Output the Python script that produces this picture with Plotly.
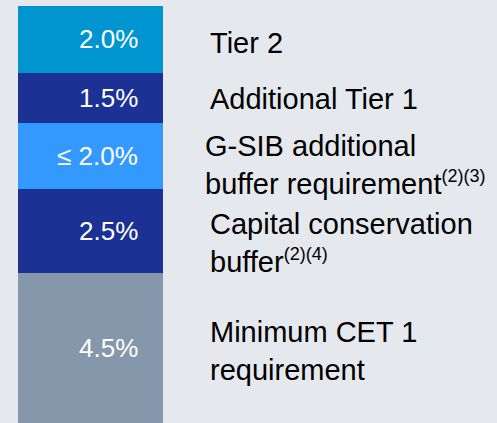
import plotly.graph_objects as go

# data (bottom to top)
categories = ["Minimum CET 1<br>requirement",
              "Capital conservation<br>buffer<sup>(2)(4)</sup>",
              "G-SIB additional<br>buffer requirement<sup>(2)(3)</sup>",
              "Additional Tier 1",
              "Tier 2"]
values = [4.5, 2.5, 2.0, 1.5, 2.0]
value_labels = ["4.5%", "2.5%", "≤ 2.0%", "1.5%", "2.0%"]
colors = ["#8497AB", "#1B3194", "#3399FF", "#1B3194", "#0095D0"]

# style/position tweaks per label (pixels)
label_xshift = [-3, -3, -8, -3, -3]
label_yshift = [-3, -12, -9, -1, -4]
value_yshift = [0, 0, 0, 0, 0]


def styled(label):
    # smaller superscripts, as in the reference
    return label.replace("<sup>", "<sup><span style='font-size:18px'>").replace("</sup>", "</span></sup>")


fig = go.Figure()
for cat, v, c in zip(categories, values, colors):
    fig.add_trace(go.Bar(x=[0], y=[v], width=145, marker=dict(color=c, line=dict(width=0)),
                         name=cat, showlegend=False, hoverinfo="skip"))

annotations = []
base = 0
for i, v in enumerate(values):
    mid = base + v / 2
    annotations.append(dict(x=49.5, y=mid, xref="x", yref="y", text=value_labels[i],
                            showarrow=False, xanchor="right", yanchor="middle",
                            yshift=value_yshift[i],
                            font=dict(family="Liberation Sans, Arial", size=26, color="white")))
    annotations.append(dict(x=120.5, y=mid, xref="x", yref="y", text=styled(categories[i]),
                            showarrow=False, xanchor="left", yanchor="middle", align="left",
                            xshift=label_xshift[i], yshift=label_yshift[i],
                            font=dict(family="Liberation Sans, Arial", size=29, color="black")))
    base += v

fig.update_layout(
    width=497, height=423,
    margin=dict(l=0, r=0, t=6, b=0),
    barmode="stack", bargap=0,
    paper_bgcolor="#E5E8ED", plot_bgcolor="#E5E8ED",
    xaxis=dict(range=[-90.5, 406.5], visible=False, fixedrange=True),
    yaxis=dict(range=[0, sum(values)], visible=False, fixedrange=True),
    annotations=annotations,
)
fig.write_html("out.html", config={"displayModeBar": False},
               post_script="document.body.style.margin='0';document.body.style.overflow='hidden';")
